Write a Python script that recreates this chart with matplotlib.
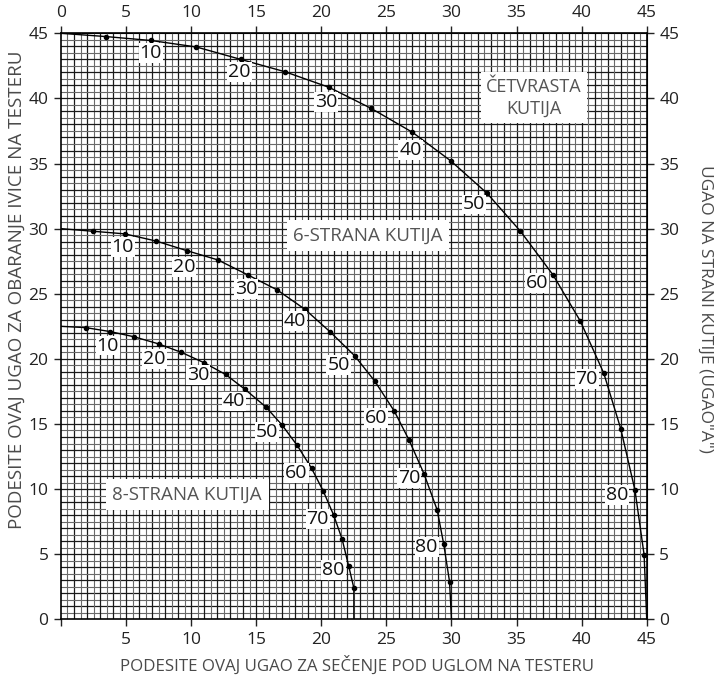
import matplotlib.pyplot as plt
import numpy as np

# ocitane tacke sa grafika (ugao strane kutije 0, 5, 10 ... 90)
kv_x = [0, 3.45, 6.9, 10.4, 13.8, 17.2, 20.6, 23.8, 27.0, 29.95, 32.75, 35.3, 37.8, 39.9, 41.7, 43.0, 44.1, 44.8, 45]
kv_y = [45, 44.75, 44.45, 43.95, 43.0, 42.05, 40.85, 39.25, 37.4, 35.2, 32.7, 29.8, 26.45, 22.9, 18.9, 14.65, 9.9, 4.95, 0]

s6_x = [0, 2.45, 4.9, 7.3, 9.7, 12.05, 14.35, 16.6, 18.75, 20.65, 22.55, 24.1, 25.6, 26.75, 27.9, 28.9, 29.4, 29.85, 30]
s6_y = [30, 29.8, 29.6, 29.05, 28.3, 27.6, 26.45, 25.3, 23.8, 22.1, 20.25, 18.3, 16.0, 13.75, 11.15, 8.4, 5.8, 2.9, 0]

s8_x = [0, 1.9, 3.75, 5.6, 7.5, 9.25, 11.0, 12.65, 14.15, 15.75, 17.0, 18.15, 19.25, 20.15, 20.95, 21.6, 22.1, 22.5, 22.5]
s8_y = [22.5, 22.4, 22.1, 21.7, 21.15, 20.5, 19.7, 18.8, 17.65, 16.3, 14.9, 13.35, 11.6, 9.85, 8.0, 6.15, 4.1, 2.4, 0]

oznake = ['10', '20', '30', '40', '50', '60', '70', '80']

# pomeraj natpisa u pikselima (dx, dy)
kv_off = [(0, -13), (-1, -13), (-3, -15), (-2, -18), (-13, -11), (-16, -8), (-17, -6), (-18, -5)]
s6_off = [(-2, -13), (-3, -16), (-2, -14), (-10, -12), (-16, -9), (-18, -7), (-15, -4), (-17, -3)]
s8_off = [(-2, -14), (-4, -15), (-6, -12), (-11, -12), (-15, -7), (-15, -5), (-16, -4), (-15, -4)]

tiks = list(range(0, 50, 5))

plt.rcParams['font.family'] = ['Open Sans', 'DejaVu Sans']

fig = plt.figure(figsize=(7.15, 6.77), dpi=100)
ax = fig.add_axes([0.0853, 0.0852, 0.8192, 0.8656])

# mreza
for v in np.arange(0.5, 45, 0.5):
    cel = abs(v - round(v)) < 1e-6
    boja = '#1a1a1a' if cel else '#6a6a6a'
    lw = 0.9 if cel else 0.8
    ax.axvline(v, color=boja, lw=lw, zorder=1)
    ax.axhline(v, color=boja, lw=lw, zorder=1)

for xs, ys, off in [(kv_x, kv_y, kv_off), (s6_x, s6_y, s6_off), (s8_x, s8_y, s8_off)]:
    ax.plot(xs, ys, color='black', lw=1.0, zorder=3)
    ax.plot(xs[1:-1], ys[1:-1], 'o', color='black', ms=3, zorder=4)
    for i, txt in enumerate(oznake):
        k = 2 * (i + 1)
        ax.annotate(txt, (xs[k], ys[k]), xytext=off[i], textcoords='offset pixels',
                    ha='center', va='center', fontsize=14, color='#111111', zorder=5,
                    bbox=dict(boxstyle='square,pad=0.05', facecolor='white', edgecolor='none'))

kutije = dict(ha='center', va='center', color='#555555', zorder=6, linespacing=1.3)
ax.text(36.35, 40.05, 'ČETVRASTA\nKUTIJA', fontsize=13,
        bbox=dict(boxstyle='square,pad=0.3', facecolor='white', edgecolor='none'), **kutije)
ax.text(23.6, 29.45, '6-STRANA KUTIJA', fontsize=13.5,
        bbox=dict(boxstyle='square,pad=0.35', facecolor='white', edgecolor='none'), **kutije)
ax.text(9.7, 9.6, '8-STRANA KUTIJA', fontsize=13.5,
        bbox=dict(boxstyle='square,pad=0.35', facecolor='white', edgecolor='none'), **kutije)

ax.set_xlim(0, 45)
ax.set_ylim(0, 45)
ax.set_xticks(tiks)
ax.set_xticklabels([''] + [str(t) for t in tiks[1:]])
ax.set_yticks(tiks)
ax.tick_params(direction='out', length=5, width=1, labelsize=12.5, colors='#222222', pad=4)
for s in ax.spines.values():
    s.set_linewidth(1.2)
    s.set_zorder(7)

top = ax.secondary_xaxis('top')
top.set_xticks(tiks)
top.tick_params(direction='out', length=5, width=1, labelsize=12.5, colors='#222222', pad=4)
right = ax.secondary_yaxis('right')
right.set_yticks(tiks)
right.tick_params(direction='out', length=5, width=1, labelsize=12.5, colors='#222222', pad=4)

fig.text(0.4993, 0.018, 'PODESITE OVAJ UGAO ZA SEČENJE POD UGLOM NA TESTERU',
         ha='center', va='center', fontsize=12.2, color='#4a4a4a')
fig.text(0.023, 0.572, 'PODESITE OVAJ UGAO ZA OBARANJE IVICE NA TESTERU',
         ha='center', va='center', rotation=90, fontsize=13.5, color='#4a4a4a')
fig.text(0.986, 0.544, 'UGAO NA STRANI KUTIJE (UGAO"A")',
         ha='center', va='center', rotation=270, fontsize=12.5, color='#4a4a4a')

fig.savefig('out.png', dpi=100)
